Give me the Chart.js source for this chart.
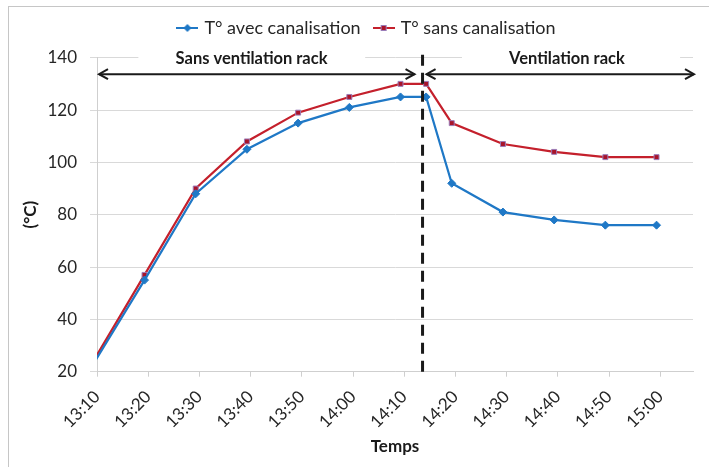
<!DOCTYPE html>
<html>
<head>
<meta charset="utf-8">
<script src="https://cdn.jsdelivr.net/npm/chart.js@4/dist/chart.umd.min.js"></script>
<style>
  html, body { margin: 0; padding: 0; background: #ffffff; }
  #wrap { width: 709px; height: 467px; position: relative; }
</style>
</head>
<body>
<div id="wrap"><canvas id="chart" width="709" height="467"></canvas></div>
<script>
// Measurement times and temperatures (°C)
const times = ['13:10', '13:20', '13:30', '13:40', '13:50', '14:00', '14:10', '14:15', '14:20', '14:30', '14:40', '14:50', '15:00'];
const avecCanalisation = [23, 55, 88, 105, 115, 121, 125, 125, 92, 81, 78, 76, 76];
const sansCanalisation = [24, 57, 90, 108, 119, 125, 130, 130, 115, 107, 104, 102, 102];

// Axis tick labels
const tickLabels = ['13:10', '13:20', '13:30', '13:40', '13:50', '14:00', '14:10', '14:20', '14:30', '14:40', '14:50', '15:00'];
const yTicks = [20, 40, 60, 80, 100, 120, 140];

// Moment the rack ventilation is switched on
const ventilationStart = '14:14.3';

const toMin = (t) => { const [h, m] = t.split(':'); return Number(h) * 60 + Number(m); };

// x axis: minutes since midnight; the axis starts a little after 13:10
const TICK_OFFSET = 0.72;
const X_MIN = toMin(tickLabels[0]) + TICK_OFFSET;
const X_MAX = X_MIN + 116.4;

const BLUE = '#1f78c6';
const RED = '#c4202c';
const FONT = 'Lato, "Open Sans", sans-serif';

const pts = (vals) => times.map((t, i) => ({ x: toMin(t), y: vals[i] }));

// Legend swatch: short line with its marker
function swatch(color, style, fill, edge) {
  const c = document.createElement('canvas');
  c.width = 22; c.height = 10;
  const g = c.getContext('2d');
  g.strokeStyle = color; g.lineWidth = 2;
  g.beginPath(); g.moveTo(0, 5); g.lineTo(22, 5); g.stroke();
  g.fillStyle = fill; g.strokeStyle = edge; g.lineWidth = 1;
  if (style === 'diamond') {
    g.beginPath(); g.moveTo(11, 1); g.lineTo(15, 5); g.lineTo(11, 9); g.lineTo(7, 5); g.closePath(); g.fill();
  } else {
    g.fillRect(8, 2, 6, 6); g.strokeRect(8.5, 2.5, 5, 5);
  }
  return c;
}

const hideOutside = (ctx) => (ctx.raw && ctx.raw.x < X_MIN ? 0 : undefined);

// Frame and white background
const framePlugin = {
  id: 'frame',
  beforeDraw(chart) {
    const g = chart.ctx;
    g.save();
    g.fillStyle = '#ffffff';
    g.fillRect(0, 0, chart.width, chart.height);
    g.strokeStyle = '#c6c6c6';
    g.lineWidth = 1;
    g.strokeRect(8.5, 6.5, chart.width + 20, chart.height + 20);
    g.restore();
  }
};

// Phase annotations: dashed separator, double arrows and captions
const phases = [
  { text: 'Sans ventilation rack', center: 820.9, boxFrom: 798.8, boxTo: 843.1 },
  { text: 'Ventilation rack', center: 882.5, boxFrom: 862.0, boxTo: 904.6 }
];

function arrowHead(g, x, y, dir) {
  g.beginPath();
  g.moveTo(x - dir * 9, y - 5);
  g.lineTo(x, y);
  g.lineTo(x - dir * 9, y + 5);
  g.stroke();
}

const annotationPlugin = {
  id: 'phases',
  afterDraw(chart) {
    const g = chart.ctx;
    const xs = chart.scales.x, ys = chart.scales.y;
    const area = chart.chartArea;
    const sepX = xs.getPixelForValue(toMin(ventilationStart));
    const yCap = ys.getPixelForValue(140);
    const yArrow = ys.getPixelForValue(133.7);
    g.save();

    // captions on white boxes
    g.font = 'bold 16.5px ' + FONT;
    g.textAlign = 'center';
    g.textBaseline = 'middle';
    phases.forEach((p) => {
      const x0 = xs.getPixelForValue(p.boxFrom), x1 = xs.getPixelForValue(p.boxTo);
      g.fillStyle = '#ffffff';
      g.fillRect(x0, yCap - 10, x1 - x0, 19);
      g.fillStyle = '#1a1a1a';
      g.fillText(p.text, xs.getPixelForValue(p.center), yCap + 1);
    });

    // double arrows
    g.strokeStyle = '#1a1a1a';
    g.lineWidth = 2;
    g.lineJoin = 'miter';
    const segs = [[area.left + 2, sepX - 8], [sepX + 4, area.right + 1]];
    segs.forEach(([a, b]) => {
      g.beginPath(); g.moveTo(a, yArrow); g.lineTo(b, yArrow); g.stroke();
      arrowHead(g, a, yArrow, -1);
      arrowHead(g, b, yArrow, 1);
    });

    // dashed separator
    g.lineWidth = 3;
    g.setLineDash([11, 7]);
    g.beginPath();
    g.moveTo(sepX, area.bottom);
    g.lineTo(sepX, yCap - 6);
    g.stroke();
    g.restore();
  }
};

new Chart(document.getElementById('chart'), {
  type: 'line',
  data: {
    datasets: [
      {
        label: 'T° avec canalisation',
        data: pts(avecCanalisation),
        borderColor: BLUE,
        backgroundColor: BLUE,
        borderWidth: 2.2,
        pointStyle: 'rectRot',
        pointRadius: (ctx) => hideOutside(ctx) ?? 4,
        pointBackgroundColor: BLUE,
        pointBorderColor: BLUE,
        pointBorderWidth: 1,
        tension: 0
      },
      {
        label: 'T° sans canalisation',
        data: pts(sansCanalisation),
        borderColor: RED,
        backgroundColor: RED,
        borderWidth: 2.2,
        pointStyle: 'rect',
        pointRadius: (ctx) => hideOutside(ctx) ?? 3.5,
        pointBackgroundColor: '#a8142a',
        pointBorderColor: '#9a7cb8',
        pointBorderWidth: 1,
        tension: 0
      }
    ]
  },
  options: {
    responsive: false,
    animation: false,
    devicePixelRatio: 1,
    layout: { padding: { left: 42, right: 16, top: 4, bottom: 0 } },
    plugins: {
      tooltip: { enabled: false },
      // blank gap between the legend and the plot
      title: {
        display: true,
        text: ' ',
        weight: 0,
        font: { size: 1 },
        padding: { top: 0, bottom: 9.5 }
      },
      legend: {
        position: 'top',
        labels: {
          font: { family: FONT, size: 18 },
          color: '#262626',
          padding: 15,
          usePointStyle: true,
          pointStyleWidth: 16,
          generateLabels(chart) {
            const styles = [
              swatch(BLUE, 'diamond', BLUE, BLUE),
              swatch(RED, 'square', '#a8142a', '#9a7cb8')
            ];
            return chart.data.datasets.map((ds, i) => ({
              text: ds.label,
              fillStyle: ds.borderColor,
              strokeStyle: ds.borderColor,
              pointStyle: styles[i],
              fontColor: '#262626',
              lineWidth: 0,
              datasetIndex: i,
              hidden: false
            }));
          }
        }
      }
    },
    scales: {
      x: {
        type: 'linear',
        min: X_MIN,
        max: X_MAX,
        afterBuildTicks(scale) {
          scale.ticks = tickLabels.map((l) => ({ value: toMin(l) + TICK_OFFSET }));
        },
        afterFit(scale) { scale.height = 95.3; },
        ticks: {
          autoSkip: false,
          minRotation: 45,
          maxRotation: 45,
          padding: 10,
          color: '#262626',
          font: { family: FONT, size: 17 },
          callback: (v, i) => tickLabels[i]
        },
        grid: {
          drawOnChartArea: false,
          drawTicks: true,
          tickLength: 5,
          color: '#cfcfcf',
          lineWidth: 1
        },
        border: { color: '#cfcfcf', width: 1 },
        title: {
          display: true,
          text: 'Temps',
          color: '#1a1a1a',
          font: { family: FONT, size: 17, weight: 'bold' },
          padding: { top: 4, bottom: 10 }
        }
      },
      y: {
        min: yTicks[0],
        max: yTicks[yTicks.length - 1],
        afterBuildTicks(scale) {
          scale.ticks = yTicks.map((v) => ({ value: v }));
        },
        afterFit(scale) { scale.width = 55; },
        ticks: {
          padding: 13,
          color: '#262626',
          font: { family: FONT, size: 17 }
        },
        grid: {
          color: '#d9d9d9',
          lineWidth: 1,
          tickLength: 7,
          drawTicks: true
        },
        border: { color: '#cfcfcf', width: 1 },
        title: {
          display: true,
          text: '(°C)',
          color: '#1a1a1a',
          font: { family: FONT, size: 17, weight: 'bold' },
          padding: { top: -22, bottom: 0 }
        }
      }
    }
  },
  plugins: [framePlugin, annotationPlugin]
});
</script>
</body>
</html>
